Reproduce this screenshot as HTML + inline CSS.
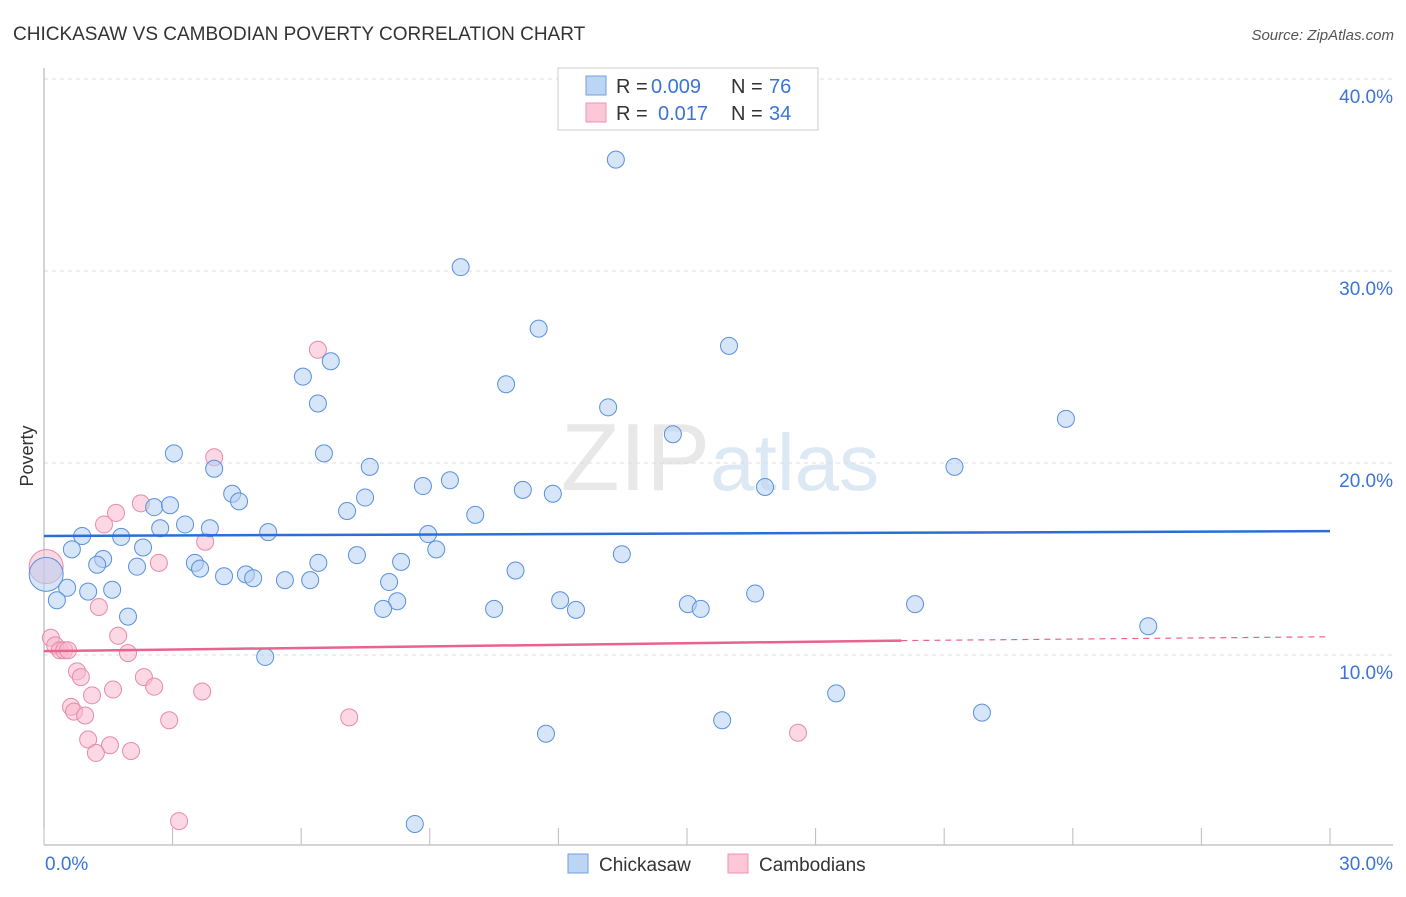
<!DOCTYPE html>
<html><head><meta charset="utf-8"><style>
body{margin:0;background:#fff;font-family:"Liberation Sans",sans-serif;}
svg text{font-family:"Liberation Sans",sans-serif;}
</style></head><body>
<svg id="chart" width="1406" height="892" xmlns="http://www.w3.org/2000/svg">
<text x="13" y="40" font-size="19" fill="#333">CHICKASAW VS CAMBODIAN POVERTY CORRELATION CHART</text>
<text x="1394" y="40" font-size="15" fill="#555" text-anchor="end" font-style="italic">Source: ZipAtlas.com</text>
<text x="720" y="490" font-size="96" fill="#e8e8e8" text-anchor="middle" font-family="Liberation Serif">ZIP<tspan fill="#dde8f5" font-family="Liberation Sans" font-size="80">atlas</tspan></text>
<text x="33" y="456" font-size="18" fill="#333" text-anchor="middle" transform="rotate(-90 33 456)">Poverty</text>
<g id="grid"></g><g id="axes"></g><g id="marks"></g>
<g>
<rect x="558" y="68" width="260" height="62" fill="#fff" stroke="#ccc"/>
<rect x="586" y="76" width="20" height="19" fill="#bcd5f5" stroke="#6fa0e0"/>
<rect x="586" y="103" width="20" height="19" fill="#fcc8d8" stroke="#f090b0"/>
<text x="616" y="93" font-size="20" fill="#333">R =</text>
<text x="651" y="93" font-size="20" fill="#3a74d6">0.009</text>
<text x="731" y="93" font-size="20" fill="#333">N =</text>
<text x="769" y="93" font-size="20" fill="#3a74d6">76</text>
<text x="616" y="120" font-size="20" fill="#333">R =</text>
<text x="658" y="120" font-size="20" fill="#3a74d6">0.017</text>
<text x="731" y="120" font-size="20" fill="#333">N =</text>
<text x="769" y="120" font-size="20" fill="#3a74d6">34</text>
</g>
<g>
<rect x="568" y="854" width="20" height="19" fill="#bcd5f5" stroke="#6fa0e0"/>
<text x="599" y="871" font-size="19" fill="#333">Chickasaw</text>
<rect x="728" y="854" width="20" height="19" fill="#fcc8d8" stroke="#f090b0"/>
<text x="759" y="871" font-size="19" fill="#333">Cambodians</text>
</g>
</svg>
<script>
const blueX=[13.34,9.72,11.54,15.98,6.69,6.04,10.78,6.39,13.16,23.84,14.67,3.03,6.53,3.97,7.6,21.24,9.47,8.84,11.17,11.87,16.82,4.39,4.55,7.49,2.57,2.94,10.06,7.07,2.71,3.29,3.87,5.23,8.96,0.89,1.8,0.65,2.31,9.15,7.3,13.48,1.38,1.24,6.4,8.33,3.52,3.64,2.17,11.0,4.2,4.71,4.88,5.62,6.21,8.05,0.54,1.03,1.59,8.24,0.3,12.04,16.59,15.02,20.32,7.91,10.5,12.41,15.32,1.96,25.76,5.16,18.48,15.82,21.88,11.71,8.65,0.05];
const blueY=[35.8,30.2,27.0,26.1,25.3,24.5,24.1,23.1,22.9,22.3,21.5,20.5,20.5,19.7,19.8,19.8,19.1,18.8,18.6,18.4,18.75,18.4,18.0,18.2,17.7,17.8,17.3,17.5,16.6,16.8,16.6,16.4,16.3,16.2,16.15,15.5,15.6,15.5,15.2,15.25,15.0,14.7,14.8,14.85,14.8,14.5,14.6,14.4,14.1,14.2,14.0,13.9,13.9,13.8,13.5,13.3,13.4,12.8,12.85,12.85,13.2,12.65,12.65,12.4,12.4,12.35,12.4,12.0,11.5,9.9,8.0,6.6,7.0,5.9,1.2,14.2];
const pinkX=[6.39,3.97,2.26,1.68,1.4,3.76,2.68,0.05,1.28,1.73,0.16,0.26,0.37,0.47,0.56,1.96,0.77,0.86,2.33,2.57,1.61,1.12,3.69,0.63,0.7,0.96,7.12,2.92,17.59,1.03,1.54,1.21,2.03,3.15];
const pinkY=[25.9,20.3,17.9,17.4,16.8,15.9,14.8,14.6,12.5,11.0,10.9,10.5,10.25,10.25,10.25,10.1,9.15,8.85,8.85,8.35,8.2,7.9,8.1,7.3,7.05,6.85,6.75,6.6,5.95,5.6,5.3,4.9,5.0,1.35];
const xTicks=[0,3,6,9,12,15,18,21,24,27,30];
const yTicks=[10,20,30,40];
const blueTrend=[16.2,16.45];
const pinkTrend=[10.2,10.75,10.95];
const X=v=>44+v/30*1286, Y=v=>847-v*19.2;
const NS="http://www.w3.org/2000/svg";
function el(p,t,a){const e=document.createElementNS(NS,t);for(const k in a)e.setAttribute(k,a[k]);p.appendChild(e);return e;}
const grid=document.getElementById('grid'),axes=document.getElementById('axes'),marks=document.getElementById('marks');
yTicks.forEach(t=>{const l=el(grid,'line',{x1:44,x2:1393,y1:Y(t),y2:Y(t),stroke:'#ddd','stroke-dasharray':'4 4'});


const tx=el(axes,'text',{x:1393,y:Y(t)+24,'font-size':19,fill:'#3a74d6','text-anchor':'end'});tx.textContent=t.toFixed(1)+'%';

});
const la=el(axes,'line',{x1:44,x2:44,y1:68,y2:845,stroke:'#aaa'});


const ba=el(axes,'line',{x1:44,x2:1393,y1:845,y2:845,stroke:'#aaa'});


xTicks.forEach(t=>{const l=el(axes,'line',{x1:X(t),x2:X(t),y1:828,y2:845,stroke:'#bbb'});

});
[[0,'start',45],[30,'end',1393]].forEach(([t,a,x])=>{const tx=el(axes,'text',{x:x,y:870,'font-size':19,fill:'#3a74d6','text-anchor':a});tx.textContent=t.toFixed(1)+'%';

});
function dots(xs,ys,fill,stroke,name){xs.forEach((x,i)=>{const big=x<0.1;const c=el(marks,'circle',{cx:X(x),cy:Y(ys[i]),r:big?17:8.5,fill:fill,'fill-opacity':0.55,stroke:stroke,'stroke-width':1});

});}
dots(pinkX,pinkY,'#f8b8cc','#e88aaa','cambodian-point');
dots(blueX,blueY,'#b4cff3','#5a90dd','chickasaw-point');
const bt=el(marks,'line',{x1:X(0),x2:X(30),y1:Y(blueTrend[0]),y2:Y(blueTrend[1]),stroke:'#2a6fd6','stroke-width':2.5});


const pt=el(marks,'line',{x1:X(0),x2:X(20),y1:Y(pinkTrend[0]),y2:Y(pinkTrend[1]),stroke:'#e8638e','stroke-width':2.5});


const pd=el(marks,'line',{x1:X(20),x2:X(30),y1:Y(pinkTrend[1]),y2:Y(pinkTrend[2]),stroke:'#e8638e','stroke-width':1.2,'stroke-dasharray':'6 5'});


</script>
</body></html>
